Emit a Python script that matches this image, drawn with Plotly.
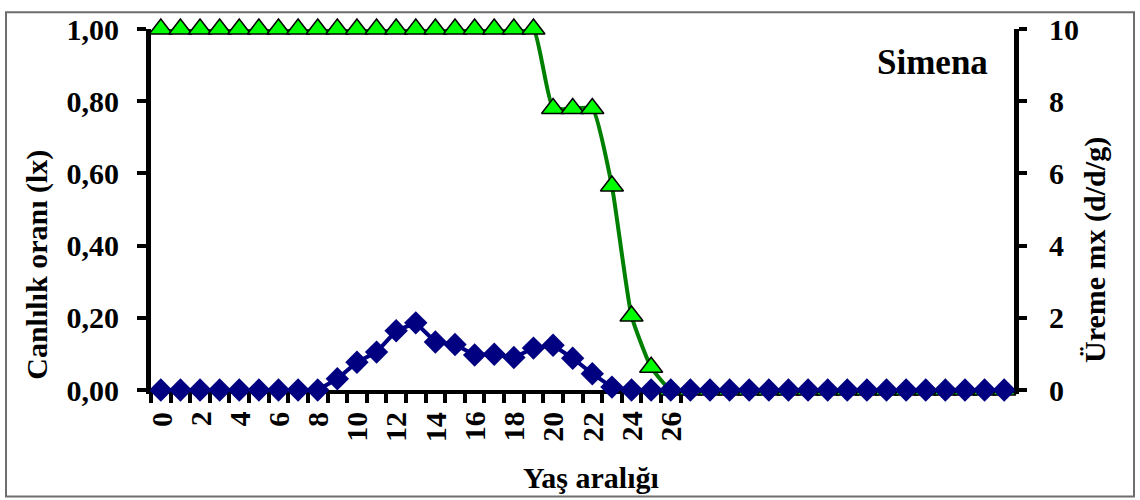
import plotly.graph_objects as go

# ---- data ----
ages = list(range(0, 44))
lx = [1.0] * 20 + [0.78, 0.78, 0.78, 0.565, 0.205, 0.063] + [0.0] * 18
mx = [0.0] * 9 + [0.31, 0.77, 1.05, 1.64, 1.86, 1.33, 1.26, 0.97, 0.99, 0.90,
                  1.16, 1.24, 0.88, 0.45, 0.08] + [0.0] * 20
x_tick_vals = list(range(0, 27, 2))
x_tick_text = [str(v) for v in x_tick_vals]
y_left_vals = [0, 0.2, 0.4, 0.6, 0.8, 1.0]
y_left_text = ["0,00", "0,20", "0,40", "0,60", "0,80", "1,00"]
y_right_vals = [0, 2, 4, 6, 8, 10]
y_right_text = ["0", "2", "4", "6", "8", "10"]

W, H = 1140, 500
L, R, T, B = 151, 126, 24, 110
PW, PH = W - L - R, H - T - B
FONT = "Liberation Serif"


def px(x):
    return (x - L) / PW


def py(y):
    return (H - B - y) / PH


fig = go.Figure()
fig.add_trace(go.Scatter(
    x=ages, y=lx, mode="lines+markers", name="lx",
    line=dict(color="#008000", width=4, shape="spline", smoothing=0.45),
    marker=dict(symbol="triangle-up", size=20, color="#00FF00",
                line=dict(color="black", width=1.5)),
    cliponaxis=False, yaxis="y"))
fig.add_trace(go.Scatter(
    x=ages, y=mx, mode="lines+markers", name="mx",
    line=dict(color="#000080", width=4),
    marker=dict(symbol="diamond", size=18, color="#000080"),
    cliponaxis=False, yaxis="y2"))

tickfont = dict(family=FONT, size=30, color="black", weight="bold")

fig.update_layout(
    width=W, height=H,
    margin=dict(l=L, r=R, t=T, b=B),
    paper_bgcolor="white", plot_bgcolor="white",
    showlegend=False,
    xaxis=dict(
        range=[-0.5, 43.5], showticklabels=False, ticks="",
        showgrid=False, zeroline=False, showline=True, linecolor="black",
        linewidth=4, layer="below traces",
        minor=dict(tickmode="array",
                   tickvals=[k - 0.5 for k in range(0, 28)],
                   ticks="outside", ticklen=9, tickwidth=4,
                   tickcolor="black", showgrid=False),
    ),
    yaxis=dict(
        range=[0, 1], tickmode="array", tickvals=y_left_vals,
        ticktext=y_left_text, ticks="outside", ticklen=9, tickwidth=4,
        tickcolor="black", tickfont=tickfont, showgrid=False,
        zeroline=False, showline=True, linecolor="black", linewidth=5,
        ticklabelstandoff=12,
    ),
    yaxis2=dict(
        range=[0, 10], overlaying="y", side="right", tickmode="array",
        tickvals=y_right_vals, ticktext=y_right_text, ticks="outside",
        ticklen=8, tickwidth=4, tickcolor="black", tickfont=tickfont,
        showgrid=False, zeroline=False, showline=True, linecolor="black",
        linewidth=5, ticklabelstandoff=16,
    ),
)

# x tick labels, top-aligned under the axis, rotated
for v, t in zip(x_tick_vals, x_tick_text):
    fig.add_annotation(x=v, y=py(410), xref="x", yref="paper", text=t,
                       textangle=-90, showarrow=False, font=tickfont,
                       xanchor="center", yanchor="top")

ann_font = dict(family=FONT, size=30, color="black", weight="bold")
fig.add_annotation(x=px(37), y=py(263), xref="paper", yref="paper",
                   text="Canlılık oranı (lx)", textangle=-90, showarrow=False,
                   font=ann_font, xanchor="center", yanchor="middle")
fig.add_annotation(x=px(1095), y=py(248), xref="paper", yref="paper",
                   text="Üreme mx (d/d/g)", textangle=-90, showarrow=False,
                   font=ann_font, xanchor="center", yanchor="middle")
fig.add_annotation(x=px(591), y=py(479), xref="paper", yref="paper",
                   text="Yaş aralığı", showarrow=False,
                   font=ann_font, xanchor="center", yanchor="middle")
fig.add_annotation(x=px(932), y=py(58), xref="paper", yref="paper",
                   text="Simena", showarrow=False,
                   font=dict(family=FONT, size=35, color="black", weight="bold"),
                   xanchor="center", yanchor="middle")

fig.add_shape(type="rect", xref="paper", yref="paper",
              x0=px(6), x1=px(1134), y0=py(498), y1=py(7),
              line=dict(color="#6e6e6e", width=2), layer="below")

fig.write_html("out.html")
